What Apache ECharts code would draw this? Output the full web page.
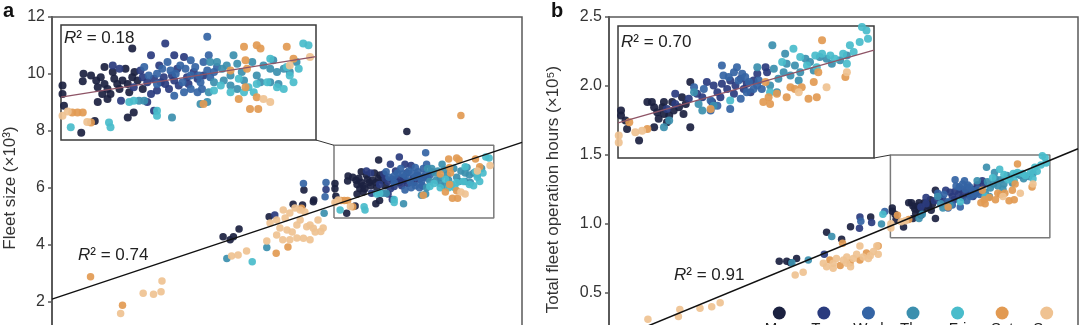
<!DOCTYPE html>
<html>
<head>
<meta charset="utf-8">
<script src="https://cdn.jsdelivr.net/npm/echarts@6/dist/echarts.min.js"></script>
<style>
  html, body { margin: 0; padding: 0; background: #fff; }
  #chart { width: 1080px; height: 325px; }
</style>
</head>
<body>
<div id="chart"></div>
<script>
// Days of the week and their colours
const days = ['Mon', 'Tue', 'Wed', 'Thu', 'Fri', 'Sat', 'Sun'];
const dayColors = ['#1b2140', '#2a3b7e', '#3464a4', '#3b8fae', '#49bccb', '#e29a52', '#efc291'];

// Panel a: daily fleet size (×10³) against daily demand (arbitrary demand units 0–10)
const fleetMon = [[3.64,4.29],[3.79,4.18],[3.86,4.29],[3.98,4.56],[4.62,4.99],[5.13,5.43],[5.33,5.40],[5.56,5.52],[5.36,5.93],[5.57,5.58],[7.55,7.98],
  [6.02,6.16],[6.02,5.97],[6.04,5.71],[6.30,6.42],[6.29,6.25],[6.47,6.27],[6.49,6.12],[6.53,6.34],[6.58,6.19],[6.62,6.08],[6.55,5.97],[6.62,5.86],[6.66,5.97],[6.49,5.79],[6.69,6.46],[6.71,6.31],[6.75,6.19],[6.78,6.08],[6.82,6.27],[6.89,6.19],[6.91,6.01],[6.95,6.98],[6.98,6.46],[7.02,6.27],[6.95,6.34],[6.89,5.45],[6.97,5.56],[6.27,5.11],[6.45,5.37],[6.58,6.57],[6.40,6.38],[6.86,6.53],[7.09,6.08]];
const fleetTue = [[4.74,5.05],[5.83,5.95],
  [6.69,6.60],[6.78,6.53],[7.06,6.49],[7.09,6.34],[7.15,6.23],[7.20,6.83],[7.31,6.60],[7.24,6.31],[7.33,6.23],[7.28,6.05],[7.37,6.34],[7.39,6.19],[7.44,6.08],[7.48,6.38],[7.51,6.27],[7.57,6.16],[7.64,6.79],[7.68,6.34],[7.70,6.19],[7.77,6.46],[7.82,6.31],[7.39,7.09],[7.51,6.83],[6.80,5.82],[7.24,5.60],[7.15,5.79],[6.97,6.12],[7.20,5.97],[7.55,6.53],[7.90,6.38]];
const fleetWed = [[5.35,6.16],[5.83,6.19],[5.81,5.69],
  [7.11,6.57],[7.17,6.38],[7.28,6.42],[7.35,6.53],[7.46,6.49],[7.53,6.42],[7.59,6.60],[7.66,6.53],[7.73,6.38],[7.79,6.57],[7.84,6.38],[7.90,6.68],[7.95,6.49],[7.99,6.34],[8.04,6.46],[8.08,6.57],[7.95,7.24],[7.88,6.08],[7.73,6.08],[7.82,6.01],[7.64,6.01],[7.51,5.93],[7.42,6.68],[7.97,6.83],[7.73,6.72],[7.28,6.19],[7.62,6.23],[7.86,6.23]];
const fleetThu = [[3.72,3.53],[4.57,3.91],[5.79,5.11],
  [8.08,6.68],[8.15,6.53],[8.21,6.60],[8.26,6.38],[8.35,6.64],[8.41,6.46],[8.55,6.68],[8.61,6.38],[8.70,6.60],[8.79,6.53],[8.83,6.72],[8.88,6.46],[8.97,6.53],[9.05,6.46],[9.14,6.68],[8.17,6.27],[8.26,6.16],[8.35,6.08],[8.44,6.27],[8.66,6.23],[8.79,6.23],[8.90,6.19],[7.95,5.79],[7.86,5.75],[7.97,6.01],[7.04,5.82],[7.11,5.82],[7.48,5.45],[7.99,6.68],[8.30,6.83],[8.04,6.23]];
const fleetFri = [[4.26,3.41],
  [6.64,5.34],[6.66,5.23],[6.13,5.23],[6.91,5.79],[6.97,5.82],[7.28,5.60],[7.28,5.49],[8.04,6.05],[8.13,6.16],[8.37,6.31],[8.50,6.12],[8.57,6.01],[8.79,6.75],[9.01,6.57],[9.23,7.09],[9.30,7.05],[9.17,6.53],[8.97,6.08],[9.05,6.38],[8.88,6.12],[9.10,6.23],[8.75,6.23],[8.26,6.01],[8.61,6.19],[8.44,6.01]];
const fleetSat = [[0.82,2.89],[1.50,1.89],[4.77,3.71],[5.31,5.29],[5.02,3.93],[8.70,8.54],
  [6.15,5.56],[6.22,5.56],[6.29,5.56],[6.40,5.34],[8.44,7.02],[8.61,7.05],[8.66,6.98],[9.01,7.02],[8.46,6.72],[8.48,6.53],[8.37,5.86],[8.52,5.64],[8.63,5.64],[8.61,5.90],[8.46,6.12],[7.90,5.75],[9.10,6.75],[8.26,6.49]];
const fleetSun = [[1.46,1.60],[1.94,2.31],[2.16,2.27],[2.32,2.36],[2.34,2.74],[3.82,3.61],[3.96,3.65],[4.14,3.79],[4.57,4.14],[5.42,4.64],[5.56,4.59],[5.72,4.47],[5.35,4.24],[4.64,4.77],[4.78,4.88],[4.92,5.23],[5.06,5.12],[5.17,5.30],[5.28,5.23],[5.38,5.16],[4.85,4.60],[5.00,4.53],[5.11,4.46],[5.21,4.70],[5.49,4.70],[5.66,4.88],[4.78,4.35],[4.91,4.18],[5.06,4.18],[5.21,4.25],[5.60,4.46],[5.77,4.60],[5.49,4.18],[5.28,4.88],[4.96,4.95],
  [6.02,5.49],[6.09,5.58],[9.32,6.79],[8.79,5.79],[9.05,6.60],[8.70,5.86],[6.35,5.35]];

// Panel b: total fleet operation hours (×10⁵) against daily demand
const hoursMon = [[3.63,0.73],[3.79,0.73],[3.87,0.72],[4.00,0.75],[4.64,0.94],[4.96,0.89],[5.15,0.98],[5.58,1.05],
  [6.04,1.116],[6.04,1.093],[6.10,1.070],[6.12,1.032],[6.28,0.979],[6.45,1.154],[6.48,1.131],[6.52,1.108],[6.59,1.131],[6.61,1.100],[6.68,1.093],[6.74,1.116],[6.72,1.154],[6.81,1.131],[6.87,1.100],[6.96,1.245],[6.96,1.040],[6.65,1.063],[6.48,1.040],[6.39,1.154],[6.90,1.146],[6.61,1.154],[6.54,1.078],[6.85,1.176]];
const hoursTue = [[4.59,0.78],[5.35,1.05],[5.34,0.97],[5.60,1.01],
  [6.76,1.192],[6.94,1.169],[7.05,1.192],[7.12,1.176],[7.18,1.245],[7.27,1.230],[7.32,1.199],[7.38,1.237],[7.45,1.214],[7.49,1.252],[7.56,1.230],[7.63,1.260],[7.67,1.214],[7.71,1.237],[7.76,1.199],[7.80,1.252],[7.25,1.154],[7.36,1.176],[7.54,1.192],[7.98,1.290],[7.96,1.313],[7.85,1.283],[6.65,1.123],[6.76,1.146]];
const hoursWed = [[5.37,1.02],[5.88,1.09],
  [7.01,1.222],[7.14,1.214],[7.23,1.161],[7.32,1.138],[7.40,1.275],[7.47,1.268],[7.54,1.290],[7.60,1.252],[7.65,1.283],[7.69,1.268],[7.74,1.245],[7.80,1.214],[7.87,1.252],[7.91,1.214],[7.63,1.169],[7.49,1.123],[7.23,1.116],[7.71,1.199],[7.38,1.321],[7.58,1.313],[7.85,1.230]];
const hoursThu = [[3.90,0.72],[4.25,0.74],[4.75,0.91],[5.81,1.00],
  [7.01,1.199],[7.07,1.146],[6.68,1.070],[6.61,1.040],[7.12,1.116],[7.27,1.138],[8.02,1.230],[8.07,1.306],[8.13,1.260],[8.20,1.290],[8.24,1.328],[8.29,1.275],[8.35,1.321],[8.42,1.290],[8.49,1.351],[8.55,1.336],[8.60,1.298],[8.68,1.359],[8.77,1.351],[8.84,1.328],[9.04,1.366],[8.05,1.412],[7.85,1.313],[8.22,1.374],[8.95,1.344],[8.40,1.252],[8.11,1.199]];
const hoursFri = [[5.84,1.07],
  [8.33,1.397],[8.42,1.359],[8.51,1.321],[8.62,1.366],[8.71,1.374],[8.82,1.366],[8.88,1.351],[8.99,1.374],[9.08,1.412],[9.13,1.382],[9.21,1.427],[9.24,1.495],[9.30,1.480],[9.32,1.442],[8.18,1.336],[8.02,1.199],[7.49,1.161],[8.64,1.313],[9.04,1.328]];
const hoursSat = [[4.98,0.86],[4.71,0.74],[4.93,0.70],[5.14,0.72],[5.35,0.74],[5.49,0.79],[5.74,0.84],
  [7.96,1.245],[8.00,1.176],[7.93,1.154],[8.02,1.146],[8.11,1.192],[8.29,1.222],[8.35,1.214],[8.44,1.222],[8.53,1.169],[8.60,1.245],[8.64,1.176],[8.71,1.435],[8.66,1.290],[9.02,1.268],[8.24,1.176],[6.15,1.063],[6.39,1.032],[7.23,1.123]];
const hoursSun = [[0.83,0.31],[1.51,0.38],[1.48,0.33],[1.94,0.39],[2.19,0.40],[2.37,0.43],[3.97,0.63],[4.14,0.65],[4.57,0.715],[4.64,0.69],[4.78,0.715],[4.85,0.75],[5.00,0.74],[5.07,0.76],[5.21,0.75],[5.28,0.78],[5.42,0.76],[5.57,0.77],[5.64,0.80],[5.74,0.78],[4.78,0.68],[5.07,0.715],[5.53,0.75],[5.15,0.69],[5.35,0.84],[5.71,0.84],
  [6.01,1.002],[6.01,0.971],[6.23,1.017],[6.32,1.024],[8.40,1.199],[8.77,1.222],[9.04,1.290]];

// Axis ranges and ticks
const demandRange = [0, 10];
const fleetTicks = [0, 12, 2];      // min, max, step
const hoursTicks = [0, 2.5, 0.5];

// Zoomed windows shown in the insets: [xMin, xMax, yMin, yMax]
const zoomA = [6.0, 9.4, 4.95, 7.5];
const zoomB = [6.0, 9.4, 0.9, 1.5];

// Linear fits: [intercept, slope] and R² labels
const fitA = [2.1, 0.55];
const fitB = [0.145, 0.14];
const fitAZoom = [5.90, 0.265];    // intercept at the zoom window's left edge
const fitBZoom = [1.06, 0.097];
const r2Labels = ['0.74', '0.18', '0.91', '0.70'];

const fleetByDay = [fleetMon, fleetTue, fleetWed, fleetThu, fleetFri, fleetSat, fleetSun];
const hoursByDay = [hoursMon, hoursTue, hoursWed, hoursThu, hoursFri, hoursSat, hoursSun];

const FONT = '"Liberation Sans", Arial, Helvetica, sans-serif';
const chart = echarts.init(document.getElementById('chart'), null, { renderer: 'canvas' });

function dotSeries(data, color, idx, size) {
  return {
    type: 'scatter', xAxisIndex: idx, yAxisIndex: idx, data: data,
    symbolSize: size, clip: true, silent: true, z: 2,
    itemStyle: { color: color, opacity: 0.92 }
  };
}
function fitSeries(fit, x0, x1, idx, color, width) {
  return {
    type: 'line', xAxisIndex: idx, yAxisIndex: idx, symbol: 'none', silent: true, z: 4,
    data: [[x0, fit[0]], [x1, fit[0] + fit[1] * (x1 - x0)]],
    lineStyle: { color: color, width: width }
  };
}
function fitSeriesFromZero(fit, idx) {
  return {
    type: 'line', xAxisIndex: idx, yAxisIndex: idx, symbol: 'none', silent: true, z: 4,
    data: [[demandRange[0], fit[0] + fit[1] * demandRange[0]], [demandRange[1], fit[0] + fit[1] * demandRange[1]]],
    lineStyle: { color: '#111', width: 1.5 }
  };
}
function zoomBox(z, idx) {
  return {
    type: 'line', xAxisIndex: idx, yAxisIndex: idx, symbol: 'none', silent: true, z: 1,
    data: [[z[0], z[2]], [z[1], z[2]], [z[1], z[3]], [z[0], z[3]], [z[0], z[2]]],
    lineStyle: { color: '#7a7a7a', width: 1.5 }
  };
}
function mainY(idx, ticks, name, gap, fmt) {
  return {
    gridIndex: idx, type: 'value', min: ticks[0], max: ticks[1], interval: ticks[2],
    axisLine: { show: true, lineStyle: { color: '#5a5a5a', width: 2 } },
    axisTick: { show: true, length: 4, lineStyle: { color: '#5a5a5a', width: 1.5 } },
    axisLabel: { fontSize: 16, color: '#333', margin: 7, fontFamily: FONT, formatter: fmt },
    splitLine: { show: false },
    name: name, nameLocation: 'middle', nameGap: gap,
    nameTextStyle: { fontSize: 17, color: '#333', fontFamily: FONT }
  };
}
function hiddenAxis(idx, min, max) {
  return { gridIndex: idx, type: 'value', min: min, max: max, show: false, splitLine: { show: false } };
}

const series = [];
series.push(zoomBox(zoomA, 0), zoomBox(zoomB, 2));
days.forEach((d, i) => {
  series.push(dotSeries(fleetByDay[i], dayColors[i], 0, 7.5));
  series.push(dotSeries(fleetByDay[i], dayColors[i], 1, 8));
  series.push(dotSeries(hoursByDay[i], dayColors[i], 2, 7.5));
  series.push(dotSeries(hoursByDay[i], dayColors[i], 3, 8));
});
series.push(fitSeriesFromZero(fitA, 0), fitSeriesFromZero(fitB, 2));
series.push(fitSeries(fitAZoom, zoomA[0], zoomA[1], 1, '#8e5466', 1.3));
series.push(fitSeries(fitBZoom, zoomB[0], zoomB[1], 3, '#8e5466', 1.3));
// day key
series.push({
  type: 'scatter', xAxisIndex: 4, yAxisIndex: 4, symbolSize: 13, silent: true,
  data: days.map((d, i) => ({ value: [d, 0.5], itemStyle: { color: dayColors[i], opacity: 1 } }))
});

const gridBase = { containLabel: false, outerBoundsMode: 'none' };
const option = {
  animation: false,
  backgroundColor: '#fff',
  textStyle: { fontFamily: FONT },
  grid: [
    Object.assign({ left: 52, top: 17, width: 470, height: 342, show: true, borderColor: '#5a5a5a', borderWidth: 1.5, backgroundColor: 'transparent' }, gridBase),
    Object.assign({ left: 61, top: 25, width: 255, height: 115, show: true, borderColor: '#3a3a3a', borderWidth: 1.5, backgroundColor: '#fff' }, gridBase),
    Object.assign({ left: 609, top: 17, width: 469, height: 345, show: true, borderColor: '#5a5a5a', borderWidth: 1.5, backgroundColor: 'transparent' }, gridBase),
    Object.assign({ left: 618, top: 26, width: 256, height: 132, show: true, borderColor: '#3a3a3a', borderWidth: 1.5, backgroundColor: '#fff' }, gridBase),
    Object.assign({ left: 757, top: 307, width: 312, height: 12, show: false }, gridBase)
  ],
  xAxis: [
    hiddenAxis(0, demandRange[0], demandRange[1]),
    hiddenAxis(1, zoomA[0], zoomA[1]),
    hiddenAxis(2, demandRange[0], demandRange[1]),
    hiddenAxis(3, zoomB[0], zoomB[1]),
    {
      gridIndex: 4, type: 'category', data: days, boundaryGap: true,
      axisLine: { show: false }, axisTick: { show: false }, splitLine: { show: false },
      axisLabel: { fontSize: 15, color: '#222', margin: 2, fontFamily: FONT, interval: 0 }
    }
  ],
  yAxis: [
    mainY(0, fleetTicks, 'Fleet size (×10³)', 33, v => String(v)),
    hiddenAxis(1, zoomA[2], zoomA[3]),
    mainY(2, hoursTicks, 'Total fleet operation hours (×10⁵)', 47, v => v.toFixed(1)),
    hiddenAxis(3, zoomB[2], zoomB[3]),
    hiddenAxis(4, 0, 1)
  ],
  series: series
};
chart.setOption(option);

// Connectors from each inset corner to its zoom window, and text annotations
function connector(insetGrid, mainGrid, z) {
  const a = chart.convertToPixel({ gridIndex: insetGrid }, [z[1], z[2]]);
  const b = chart.convertToPixel({ gridIndex: mainGrid }, [z[0], z[3]]);
  return { type: 'line', silent: true, z: 10, shape: { x1: a[0], y1: a[1], x2: b[0], y2: b[1] }, style: { stroke: '#333', lineWidth: 1 } };
}
function r2Text(x, y, value) {
  return {
    type: 'text', x: x, y: y, z: 20, silent: true,
    style: {
      text: '{i|R}{n|² = ' + value + '}', verticalAlign: 'middle', align: 'left',
      rich: {
        i: { fontStyle: 'italic', fontSize: 17, fontFamily: FONT, fill: '#222' },
        n: { fontSize: 17, fontFamily: FONT, fill: '#222' }
      }
    }
  };
}
function panelLabel(x, text) {
  return { type: 'text', x: x, y: 1, z: 20, silent: true, style: { text: text, font: 'bold 20px ' + FONT, fill: '#111' } };
}
chart.setOption({
  graphic: [
    connector(1, 0, zoomA),
    connector(3, 2, zoomB),
    r2Text(78, 255, r2Labels[0]),
    r2Text(64, 38, r2Labels[1]),
    r2Text(674, 275, r2Labels[2]),
    r2Text(621, 42, r2Labels[3]),
    panelLabel(3, 'a'),
    panelLabel(551, 'b')
  ]
});
</script>
</body>
</html>
